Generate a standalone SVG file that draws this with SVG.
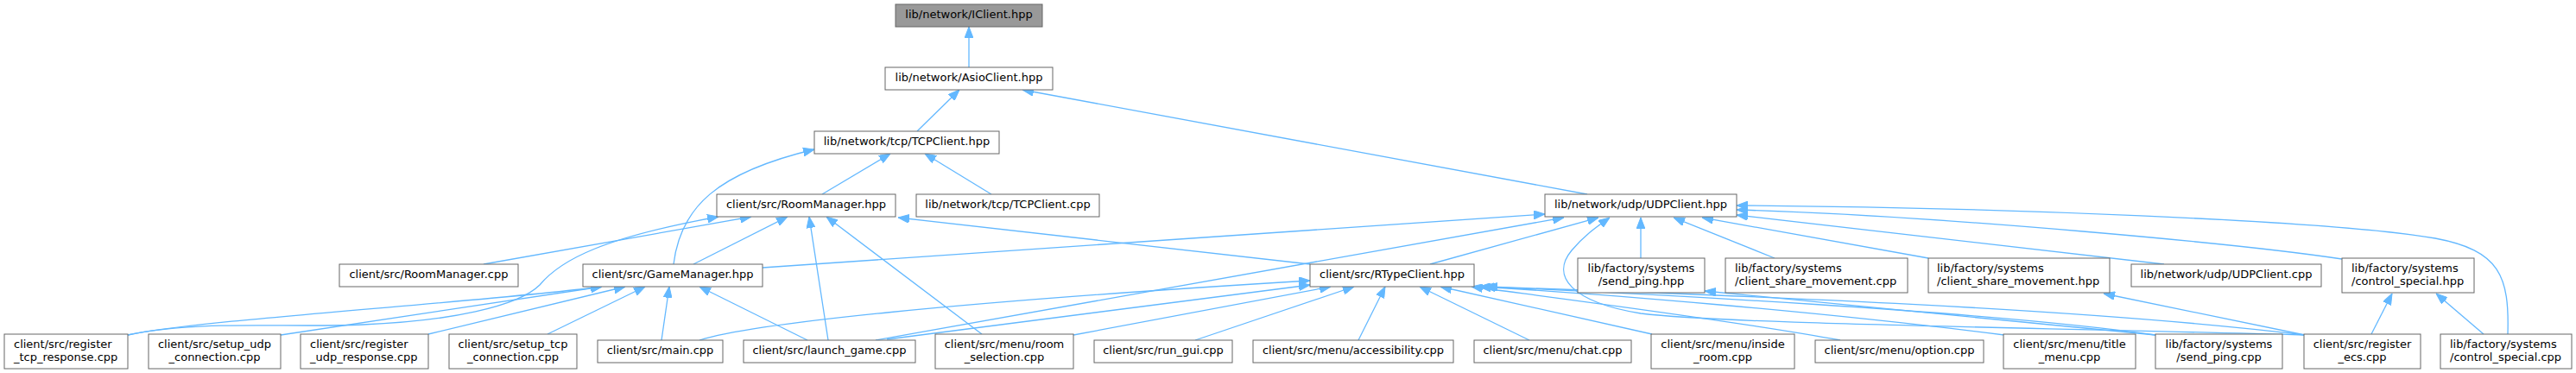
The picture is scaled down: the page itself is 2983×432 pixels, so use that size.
<svg xmlns="http://www.w3.org/2000/svg" width="2983" height="432" viewBox="0 0 2983 432">
<style>
.n rect{fill:#ffffff;stroke:#666666;stroke-width:1}
.root rect{fill:#999999}
.n text{font-family:"DejaVu Sans",sans-serif;font-size:13px;fill:#000}
.c{text-anchor:middle}
.e path{fill:none;stroke:#63b8ff;stroke-width:1.3;marker-end:url(#ah)}
</style>
<defs>
<marker id="ah" viewBox="0 0 13 10" refX="13" refY="5" markerWidth="13" markerHeight="10" markerUnits="userSpaceOnUse" orient="auto">
<path d="M0,0 L13,5 L0,10 z" fill="#63b8ff" stroke="#63b8ff" stroke-width="1"/>
</marker>
</defs>
<rect width="2983" height="432" fill="#ffffff"/>
<g id="edges" class="e">
<path d="M1122,78 L1122,31"/>
<path d="M1062,152 L1111,104"/>
<path d="M1838,225 L1184,104"/>
<path d="M952,225 L1031,178"/>
<path d="M1148,225 L1071,178"/>
<path d="M780,306 C788,240 830,200 943,173"/>
<path d="M560,306 L870,251"/>
<path d="M803,306 L912,251"/>
<path d="M148,388 C230,370 330,380 420,376 C520,372 600,355 625,330 C650,300 700,275 832,251"/>
<path d="M148,388 C230,370 560,350 697,332"/>
<path d="M325,388 L697,332"/>
<path d="M496,387 L724,332"/>
<path d="M634,387 L747,332"/>
<path d="M766,394 L775,332"/>
<path d="M935,394 L810,332"/>
<path d="M883,310 L1789,248"/>
<path d="M959,394 L937,251"/>
<path d="M1137,387 L957,251"/>
<path d="M1517,306 L1040,252"/>
<path d="M1014,394 L1811,252"/>
<path d="M1656,306 L1851,252"/>
<path d="M1900,299 L1900,252"/>
<path d="M2055,299 L1938,252"/>
<path d="M2233,299 L1971,252"/>
<path d="M2506,306 L2011,249"/>
<path d="M2712,300 C2600,283 2250,250 2011,243"/>
<path d="M2904,387 C2906,320 2895,290 2820,276 C2700,255 2300,240 2011,238"/>
<path d="M2669,388 C2300,378 2000,375 1900,363 C1820,350 1795,320 1820,290 C1835,272 1850,262 1864,252"/>
<path d="M810,394 C870,375 1100,350 1517,325"/>
<path d="M1027,393 L1517,330"/>
<path d="M1243,388 L1541,332"/>
<path d="M1384,394 L1568,332"/>
<path d="M1573,394 L1604,332"/>
<path d="M1771,394 L1644,332"/>
<path d="M1913,387 L1668,332"/>
<path d="M2131,394 C2000,370 1800,345 1704,332"/>
<path d="M2321,388 C2100,360 1850,340 1713,332"/>
<path d="M2496,388 C2300,360 1900,340 1718,332"/>
<path d="M2669,388 C2400,355 1950,340 1721,332"/>
<path d="M2496,388 L1974,337"/>
<path d="M2669,388 L2436,340"/>
<path d="M2746,387 L2770,340"/>
<path d="M2876,387 L2821,340"/>
</g>
<g id="node-iclient" class="n root"><rect x="1037" y="5" width="170" height="26"/><text class="c" x="1122" y="21">lib/network/IClient.hpp</text></g>
<g id="node-asioclient" class="n"><rect x="1025" y="78" width="194" height="26"/><text class="c" x="1122" y="94">lib/network/AsioClient.hpp</text></g>
<g id="node-tcpclient-hpp" class="n"><rect x="943" y="152" width="214" height="26"/><text class="c" x="1050" y="168">lib/network/tcp/TCPClient.hpp</text></g>
<g id="node-roommanager-hpp" class="n"><rect x="830" y="225" width="207" height="26"/><text class="c" x="933.5" y="241">client/src/RoomManager.hpp</text></g>
<g id="node-tcpclient-cpp" class="n"><rect x="1061" y="225" width="212" height="26"/><text class="c" x="1167" y="241">lib/network/tcp/TCPClient.cpp</text></g>
<g id="node-udpclient-hpp" class="n"><rect x="1789" y="225" width="222" height="26"/><text class="c" x="1900" y="241">lib/network/udp/UDPClient.hpp</text></g>
<g id="node-roommanager-cpp" class="n"><rect x="393" y="306" width="207" height="26"/><text class="c" x="496.5" y="322">client/src/RoomManager.cpp</text></g>
<g id="node-gamemanager-hpp" class="n"><rect x="675" y="306" width="208" height="26"/><text class="c" x="779" y="322">client/src/GameManager.hpp</text></g>
<g id="node-rtypeclient-hpp" class="n"><rect x="1517" y="306" width="190" height="26"/><text class="c" x="1612" y="322">client/src/RTypeClient.hpp</text></g>
<g id="node-send-ping-hpp" class="n"><rect x="1827" y="299" width="147" height="40"/><text class="c" x="1900.5" y="315">lib/factory/systems</text><text class="c" x="1900.5" y="329.5">/send_ping.hpp</text></g>
<g id="node-csm-cpp" class="n"><rect x="1998" y="299" width="211" height="40"/><text x="2009" y="315">lib/factory/systems</text><text x="2009" y="329.5">/client_share_movement.cpp</text></g>
<g id="node-csm-hpp" class="n"><rect x="2233" y="299" width="210" height="40"/><text x="2243" y="315">lib/factory/systems</text><text x="2243" y="329.5">/client_share_movement.hpp</text></g>
<g id="node-udpclient-cpp" class="n"><rect x="2468" y="306" width="220" height="26"/><text class="c" x="2578" y="322">lib/network/udp/UDPClient.cpp</text></g>
<g id="node-control-special-hpp" class="n"><rect x="2712" y="299" width="153" height="40"/><text x="2723" y="315">lib/factory/systems</text><text x="2723" y="329.5">/control_special.hpp</text></g>
<g id="node-register-tcp" class="n"><rect x="5" y="387" width="143" height="40"/><text x="16" y="403">client/src/register</text><text x="16" y="417.5">_tcp_response.cpp</text></g>
<g id="node-setup-udp" class="n"><rect x="172" y="387" width="153" height="40"/><text class="c" x="248.5" y="403">client/src/setup_udp</text><text class="c" x="248.5" y="417.5">_connection.cpp</text></g>
<g id="node-register-udp" class="n"><rect x="348" y="387" width="148" height="40"/><text x="359" y="403">client/src/register</text><text x="359" y="417.5">_udp_response.cpp</text></g>
<g id="node-setup-tcp" class="n"><rect x="520" y="387" width="148" height="40"/><text class="c" x="594" y="403">client/src/setup_tcp</text><text class="c" x="594" y="417.5">_connection.cpp</text></g>
<g id="node-main" class="n"><rect x="692" y="394" width="145" height="26"/><text class="c" x="764.5" y="410">client/src/main.cpp</text></g>
<g id="node-launch-game" class="n"><rect x="861" y="394" width="199" height="26"/><text class="c" x="960.5" y="410">client/src/launch_game.cpp</text></g>
<g id="node-room-selection" class="n"><rect x="1083" y="387" width="160" height="40"/><text class="c" x="1163" y="403">client/src/menu/room</text><text class="c" x="1163" y="417.5">_selection.cpp</text></g>
<g id="node-run-gui" class="n"><rect x="1267" y="394" width="160" height="26"/><text class="c" x="1347" y="410">client/src/run_gui.cpp</text></g>
<g id="node-accessibility" class="n"><rect x="1451" y="394" width="232" height="26"/><text class="c" x="1567" y="410">client/src/menu/accessibility.cpp</text></g>
<g id="node-chat" class="n"><rect x="1707" y="394" width="182" height="26"/><text class="c" x="1798" y="410">client/src/menu/chat.cpp</text></g>
<g id="node-inside-room" class="n"><rect x="1912" y="387" width="166" height="40"/><text class="c" x="1995" y="403">client/src/menu/inside</text><text class="c" x="1995" y="417.5">_room.cpp</text></g>
<g id="node-option" class="n"><rect x="2102" y="394" width="195" height="26"/><text class="c" x="2199.5" y="410">client/src/menu/option.cpp</text></g>
<g id="node-title-menu" class="n"><rect x="2320" y="387" width="153" height="40"/><text class="c" x="2396.5" y="403">client/src/menu/title</text><text class="c" x="2396.5" y="417.5">_menu.cpp</text></g>
<g id="node-send-ping-cpp" class="n"><rect x="2496" y="387" width="147" height="40"/><text class="c" x="2569.5" y="403">lib/factory/systems</text><text class="c" x="2569.5" y="417.5">/send_ping.cpp</text></g>
<g id="node-register-ecs" class="n"><rect x="2668" y="387" width="135" height="40"/><text class="c" x="2735.5" y="403">client/src/register</text><text class="c" x="2735.5" y="417.5">_ecs.cpp</text></g>
<g id="node-control-special-cpp" class="n"><rect x="2826" y="387" width="152" height="40"/><text x="2837" y="403">lib/factory/systems</text><text x="2837" y="417.5">/control_special.cpp</text></g>
</svg>
